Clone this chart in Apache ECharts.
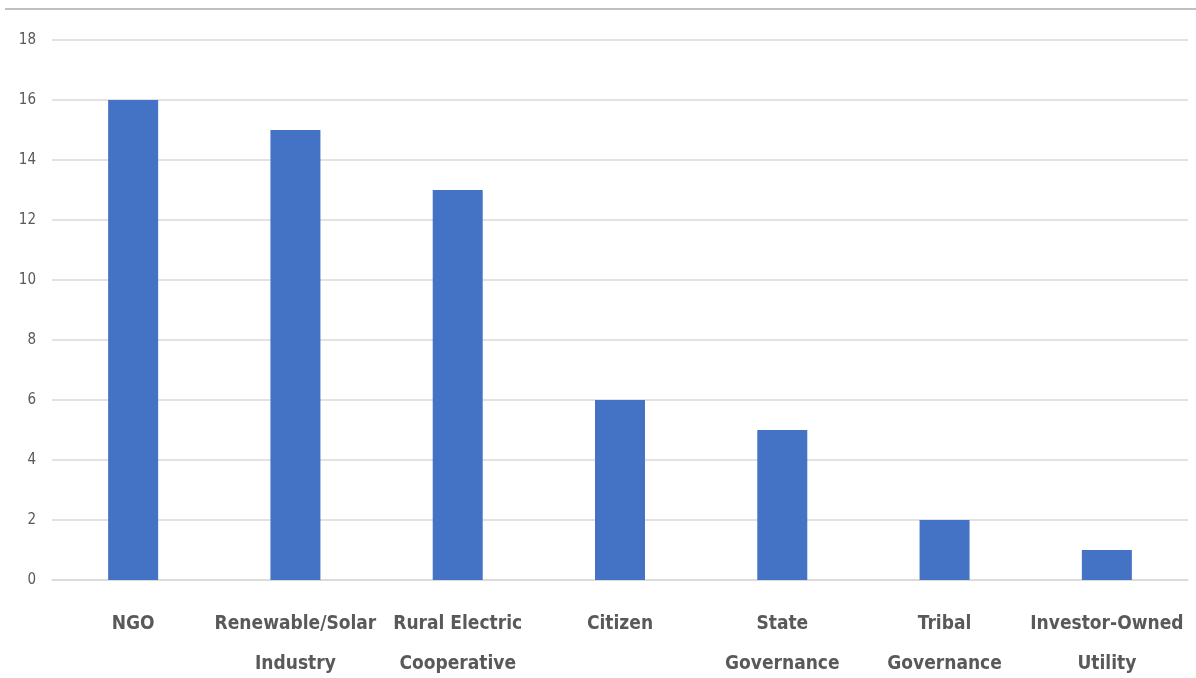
<!DOCTYPE html>
<html>
<head>
<meta charset="utf-8">
<script src="https://cdn.jsdelivr.net/npm/echarts@6/dist/echarts.min.js"></script>
<style>html,body{margin:0;padding:0;background:#fff;}#c{width:1196px;height:678px;}</style>
</head>
<body>
<div id="c"></div>
<script>
const categories = ['NGO', 'Renewable/Solar\nIndustry', 'Rural Electric\nCooperative', 'Citizen', 'State\nGovernance', 'Tribal\nGovernance', 'Investor-Owned\nUtility'];
const values = [16, 15, 13, 6, 5, 2, 1];
const yTicks = { min: 0, max: 18, interval: 2 };

const chart = echarts.init(document.getElementById('c'), null, { renderer: 'canvas' });
chart.setOption({
  animation: false,
  backgroundColor: '#fff',
  graphic: [{
    type: 'line',
    shape: { x1: 5, y1: 9, x2: 1196, y2: 9 },
    style: { stroke: '#bfbfbf', lineWidth: 2 }
  }],
  grid: { left: 52, right: 8, top: 40, bottom: 98, containLabel: false, outerBoundsMode: 'none' },
  xAxis: {
    type: 'category',
    data: categories,
    axisLine: { show: true, lineStyle: { color: '#d9d9d9', width: 1.5 } },
    axisTick: { show: false },
    axisLabel: {
      color: '#595959',
      fontFamily: 'Liberation Sans Narrow, DejaVu Sans Condensed, sans-serif',
      fontWeight: 'bold',
      fontSize: 19,
      lineHeight: 40,
      margin: 24,
      interval: 0
    }
  },
  yAxis: {
    type: 'value',
    min: yTicks.min,
    max: yTicks.max,
    interval: yTicks.interval,
    axisLine: { show: false },
    axisTick: { show: false },
    splitLine: { lineStyle: { color: '#d9d9d9', width: 1.5 } },
    axisLabel: {
      color: '#595959',
      fontFamily: 'Liberation Sans Narrow, DejaVu Sans Condensed, sans-serif',
      fontSize: 15,
      margin: 16
    }
  },
  series: [{
    type: 'bar',
    data: values,
    barWidth: 50,
    itemStyle: { color: '#4472C4' }
  }]
});
</script>
</body>
</html>
